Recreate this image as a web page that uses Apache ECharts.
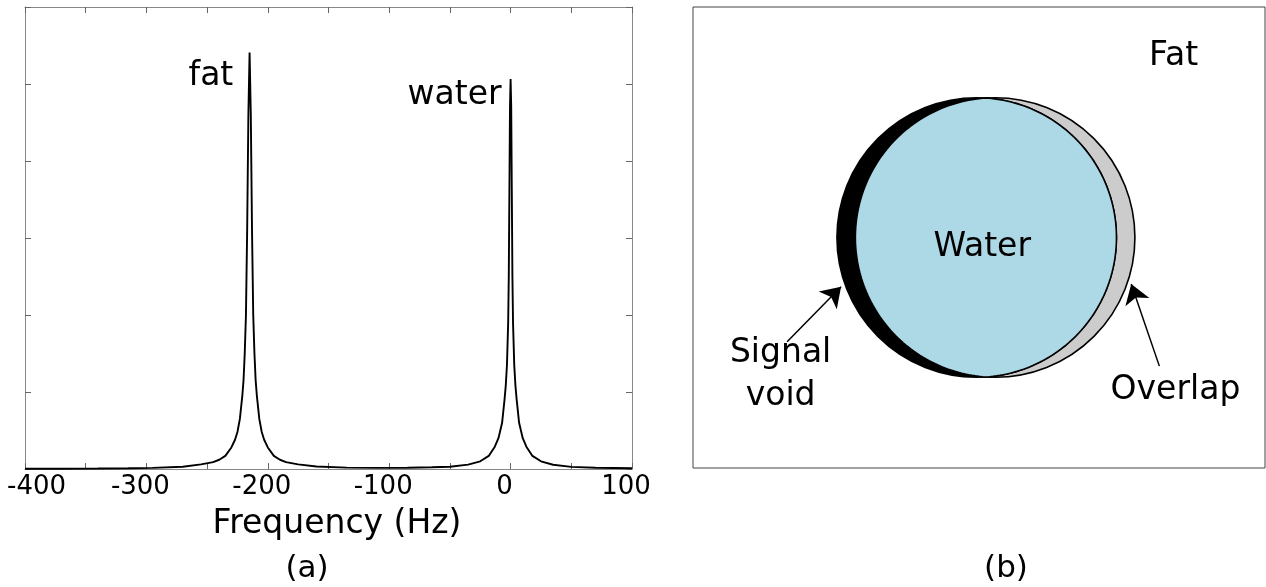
<!DOCTYPE html>
<html>
<head>
<meta charset="utf-8">
<title>Fat / water chemical shift</title>
<script src="https://cdn.jsdelivr.net/npm/echarts@6/dist/echarts.min.js"></script>
<style>
  html, body { margin: 0; padding: 0; background: #ffffff; }
  #chart { width: 1266px; height: 587px; }
</style>
</head>
<body>
<div id="chart"></div>
<script>
// (a) NMR spectrum: frequency offset (Hz) and signal amplitude (arbitrary units)
const freqHz = [
  -400, -370, -340, -315, -295, -270, -255, -245, -240, -235, -230, -227, -225, -223,
  -221, -220, -219, -218, -217, -216, -215, -214, -213, -212, -211, -210, -209, -207,
  -205, -203, -200, -195, -190, -185, -175, -160, -135, -110, -85, -65, -50, -35, -25,
  -18, -13, -10, -7, -5, -4, -3, -2, -1.5, -1, -0.5, 0, 0.5, 1, 1.5, 2, 3, 4, 5, 7, 10,
  13, 18, 25, 35, 50, 70, 100
];
const amplitude = [
  0.003, 0.004, 0.006, 0.009, 0.014, 0.03, 0.06, 0.09, 0.12, 0.17, 0.28, 0.38, 0.48, 0.65,
  0.95, 1.15, 1.5, 2.0, 3.1, 4.6, 5.41, 4.6, 3.1, 2.0, 1.5, 1.15, 0.95, 0.65,
  0.48, 0.38, 0.28, 0.17, 0.12, 0.09, 0.06, 0.032, 0.018, 0.014, 0.016, 0.022, 0.03, 0.057, 0.1,
  0.17, 0.29, 0.4, 0.6, 0.9, 1.08, 1.35, 1.9, 2.5, 3.6, 4.7, 5.065, 4.7, 3.6, 2.5, 1.9, 1.35, 1.08, 0.9, 0.6, 0.4,
  0.29, 0.17, 0.1, 0.055, 0.028, 0.016, 0.009
];
const freqTickLabels = [-400, -300, -200, -100, 0, 100];

// Peak annotations
const peakNames = ['fat', 'water'];
const peakLabelFreq = [-228, -7];
const peakLabelAmp = [5.09, 4.84];

// (b) Image-domain sketch, in panel units (x 0..12.4, y 0..10)
const circleCentersX = [6.15, 6.55];   // true position, shifted position
const circleCenterY = 5.0;
const circleRadius = 3.03;
const sketchLabels = ['Fat', 'Water', 'Signal\nvoid', 'Overlap'];
const sketchLabelX = [10.43, 6.28, 1.91, 10.47];
const sketchLabelY = [8.92, 4.77, 2.0, 1.67];
const arrowFrom = [[2.04, 2.74], [10.11, 2.21]];
const arrowTo = [[3.21, 3.93], [9.50, 3.99]];

const FONT = 'DejaVu Sans';

const spectrum = freqHz.map((f, i) => [f, amplitude[i]]);

const frameAxis = {
  axisLine: { show: true, onZero: false, lineStyle: { color: '#888888', width: 1 } },
  axisTick: { show: true, inside: true, length: 6, lineStyle: { color: '#666666', width: 1 } },
  splitLine: { show: false }
};

const chart = echarts.init(document.getElementById('chart'), null, { renderer: 'canvas' });

const option = {
  animation: false,
  backgroundColor: '#ffffff',
  grid: [
    { left: 25, top: 7, width: 607, height: 462, outerBoundsMode: 'none' },
    { left: 693, top: 7, width: 572, height: 461, show: true, borderColor: '#444444',
      borderWidth: 1, backgroundColor: 'transparent', outerBoundsMode: 'none' }
  ],
  xAxis: [
    Object.assign({}, frameAxis, {
      gridIndex: 0, type: 'value', min: -400, max: 100, interval: 50, position: 'bottom',
      axisLabel: {
        show: true, margin: 5, color: '#000000', fontFamily: FONT, fontSize: 26,
        formatter: function (v) {
          if (freqTickLabels.indexOf(v) < 0) return '';
          return v === -400 ? '{edge|' + v + '}' : '{v|' + v + '}';
        },
        rich: {
          v: { fontFamily: FONT, fontSize: 26, color: '#000000', padding: [0, 12, 0, 0] },
          edge: { fontFamily: FONT, fontSize: 26, color: '#000000', padding: [0, 0, 0, 23] }
        }
      },
      name: 'Frequency (Hz)', nameLocation: 'middle', nameGap: 39,
      nameTextStyle: { fontFamily: FONT, fontSize: 33, color: '#000000', padding: [0, 0, 0, 17] }
    }),
    Object.assign({}, frameAxis, {
      gridIndex: 0, type: 'value', min: -400, max: 100, interval: 50, position: 'top',
      axisLabel: { show: false }
    }),
    { gridIndex: 1, type: 'value', min: 0, max: 12.4, show: false }
  ],
  yAxis: [
    Object.assign({}, frameAxis, {
      gridIndex: 0, type: 'value', min: 0, max: 6, interval: 1, position: 'left',
      axisLabel: { show: false }
    }),
    Object.assign({}, frameAxis, {
      gridIndex: 0, type: 'value', min: 0, max: 6, interval: 1, position: 'right',
      axisLabel: { show: false }
    }),
    { gridIndex: 1, type: 'value', min: 0, max: 10, show: false }
  ],
  series: [
    {
      name: 'spectrum', type: 'line', xAxisIndex: 0, yAxisIndex: 0,
      data: spectrum, showSymbol: false, symbol: 'none', smooth: false,
      lineStyle: { color: '#000000', width: 1.9 }, silent: true, z: 3
    },
    {
      name: 'peak labels', type: 'scatter', xAxisIndex: 0, yAxisIndex: 0,
      symbolSize: 1, itemStyle: { color: 'transparent', opacity: 1 }, silent: true,
      data: peakNames.map((n, i) => ({ name: n, value: [peakLabelFreq[i], peakLabelAmp[i]] })),
      label: {
        show: true, formatter: '{b}', position: [0, 0], align: 'right', verticalAlign: 'middle',
        fontFamily: FONT, fontSize: 33, color: '#000000', opacity: 1
      }
    },
    {
      name: 'circles', type: 'custom', xAxisIndex: 2, yAxisIndex: 2, silent: true,
      data: [[circleCentersX[0], circleCentersX[1], circleCenterY, circleRadius]],
      encode: { x: [0, 1], y: 2 },
      renderItem: function (params, api) {
        const pA = api.coord([api.value(0), api.value(2)]);
        const pB = api.coord([api.value(1), api.value(2)]);
        const rp = api.size([api.value(3), 0])[0];
        const half = (pB[0] - pA[0]) / 2;
        const alpha = Math.acos(half / rp);
        const n = 120;
        const lens = [];
        for (let i = 0; i <= n; i++) {
          const a = -alpha + 2 * alpha * i / n;
          lens.push([pA[0] + rp * Math.cos(a), pA[1] + rp * Math.sin(a)]);
        }
        for (let i = 0; i <= n; i++) {
          const a = Math.PI - alpha + 2 * alpha * i / n;
          lens.push([pB[0] + rp * Math.cos(a), pB[1] + rp * Math.sin(a)]);
        }
        return {
          type: 'group',
          children: [
            { type: 'circle', shape: { cx: pB[0], cy: pB[1], r: rp },
              style: { fill: '#cccccc', stroke: '#000000', lineWidth: 1.6 } },
            { type: 'circle', shape: { cx: pA[0], cy: pA[1], r: rp },
              style: { fill: '#000000', stroke: '#000000', lineWidth: 1.6 } },
            { type: 'polygon', shape: { points: lens },
              style: { fill: '#add8e6', stroke: '#000000', lineWidth: 1.6 } }
          ]
        };
      }
    },
    {
      name: 'arrows', type: 'lines', coordinateSystem: 'cartesian2d',
      xAxisIndex: 2, yAxisIndex: 2, silent: true, z: 4,
      symbol: ['none', 'arrow'], symbolSize: [12, 19],
      lineStyle: { color: '#000000', width: 1.5, opacity: 1, curveness: 0 },
      data: arrowFrom.map((p, i) => ({ coords: [p, arrowTo[i]] }))
    },
    {
      name: 'sketch labels', type: 'scatter', xAxisIndex: 2, yAxisIndex: 2,
      symbolSize: 1, itemStyle: { color: 'transparent', opacity: 1 }, silent: true, z: 5,
      data: sketchLabels.map((n, i) => ({ name: n, value: [sketchLabelX[i], sketchLabelY[i]] })),
      label: {
        show: true, formatter: '{b}', position: [0, 0], align: 'center', verticalAlign: 'middle',
        fontFamily: FONT, fontSize: 33, lineHeight: 43, color: '#000000', opacity: 1
      }
    }
  ],
  graphic: [
    { type: 'text', x: 307, y: 569, silent: true,
      style: { text: '(a)', fill: '#000000', font: '31px "DejaVu Sans"', textAlign: 'center', textVerticalAlign: 'middle' } },
    { type: 'text', x: 1006, y: 569, silent: true,
      style: { text: '(b)', fill: '#000000', font: '31px "DejaVu Sans"', textAlign: 'center', textVerticalAlign: 'middle' } }
  ]
};

chart.setOption(option);
</script>
</body>
</html>
